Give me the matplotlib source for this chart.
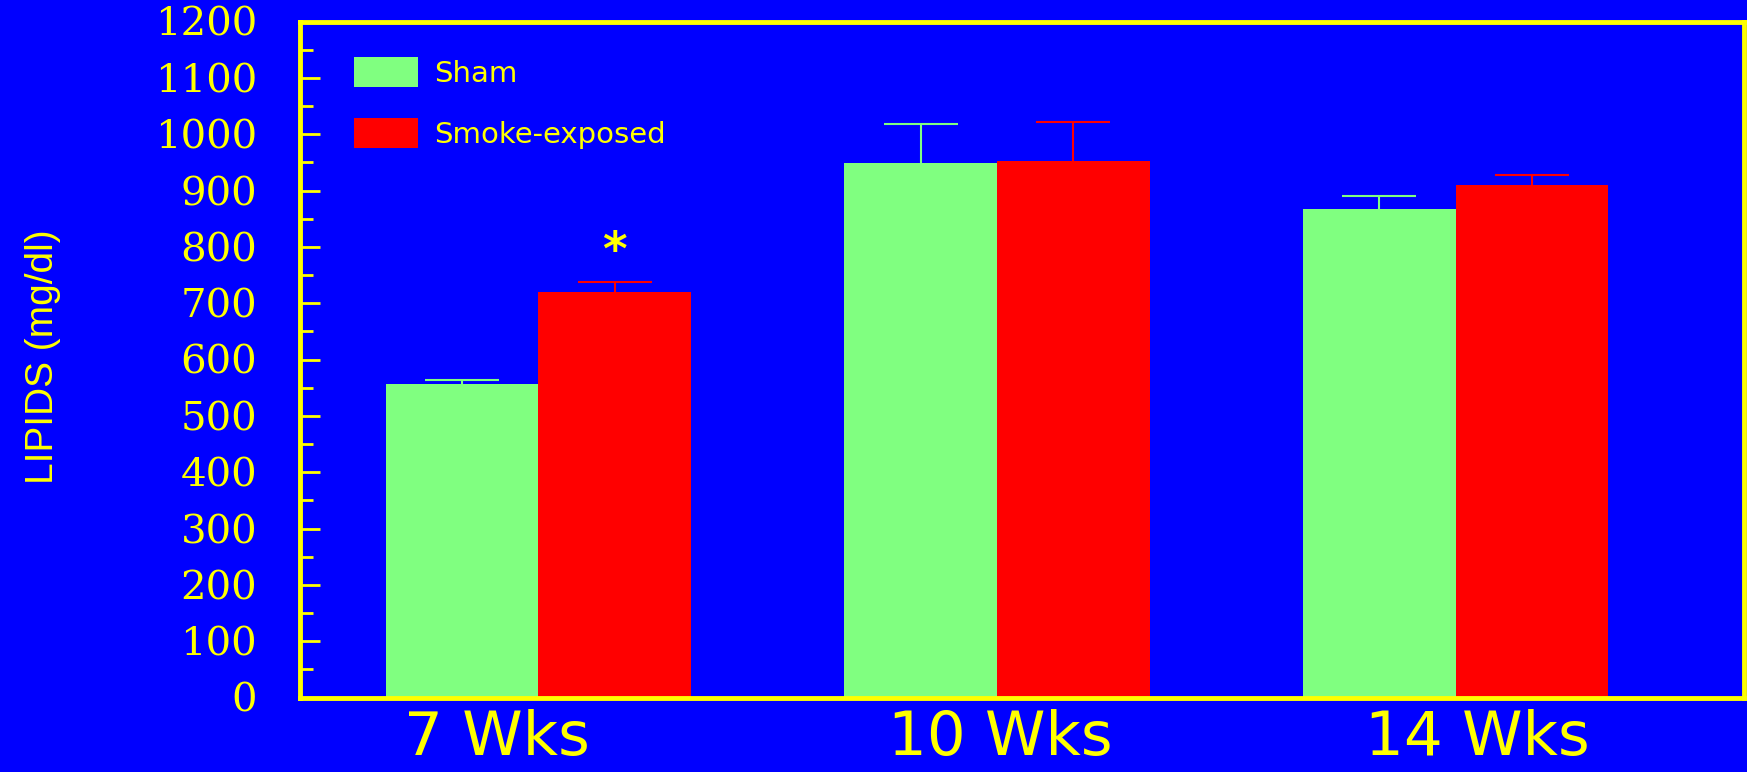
import matplotlib
matplotlib.use("Agg")
import matplotlib.pyplot as plt
import numpy as np
from matplotlib.ticker import MultipleLocator

# Serum lipids by exposure duration
categories = ["7 Wks", "10 Wks", "14 Wks"]
series_names = ["Sham", "Smoke-exposed"]
sham = [556, 949, 867]
sham_err = [8, 69, 23]
smoke = [720, 952, 909]
smoke_err = [18, 70, 19]
significant = [True, False, False]
label_shift = [-0.09, 0.007, 0.047]

BLUE = "#0000FF"
YELLOW = "#FFFF00"
GREEN = "#80FF80"
RED = "#FF0000"

W, H, DPI = 1747, 772, 100
fig = plt.figure(figsize=(W / DPI, H / DPI), dpi=DPI, facecolor=BLUE)
ax = fig.add_axes([299.5 / W, 74.5 / H, 1445 / W, 676 / H])
ax.set_facecolor(BLUE)

x = np.arange(len(categories))
w = 1 / 3
ax.bar(x - w / 2, sham, w, color=GREEN, label=series_names[0], zorder=2)
ax.bar(x + w / 2, smoke, w, color=RED, label=series_names[1], zorder=2)

# upper-only error bars: hide the cap that would sit on the bar top
for xs, vals, errs, col in ((x - w / 2, sham, sham_err, GREEN),
                            (x + w / 2, smoke, smoke_err, RED)):
    eb = ax.errorbar(xs, vals, yerr=[np.zeros(len(errs)), errs], fmt="none",
                     ecolor=col, elinewidth=1.5, capsize=26.5, capthick=1.5,
                     zorder=1)
    eb[1][0].set_visible(False)

for i, sig in enumerate(significant):
    if sig:
        ax.annotate("*", xy=(x[i] + w / 2, smoke[i] + smoke_err[i]),
                    xytext=(0, 12), textcoords="offset points",
                    ha="center", va="baseline", fontsize=34,
                    fontweight="bold", color=YELLOW)

ax.set_xlim(-0.521, 2.630)
ax.set_ylim(0, 1200)

for sp in ax.spines.values():
    sp.set_color(YELLOW)
    sp.set_linewidth(3.5)

ax.yaxis.set_major_locator(MultipleLocator(100))
ax.yaxis.set_minor_locator(MultipleLocator(50))
ax.tick_params(axis="y", which="major", direction="in", length=14.4, width=2.0,
               color=YELLOW, pad=30.5, labelcolor=YELLOW, labelsize=29)
ax.tick_params(axis="y", which="minor", direction="in", length=9.4, width=2.0,
               color=YELLOW)
for t in ax.get_yticklabels():
    t.set_fontfamily("DejaVu Serif")

ax.set_xticks(x + np.array(label_shift))
ax.set_xticklabels(categories, fontsize=44, color=YELLOW,
                   fontfamily="DejaVu Sans")
ax.tick_params(axis="x", length=0, pad=8)

ax.set_ylabel("LIPIDS (mg/dl)", color=YELLOW, fontsize=28,
              family="Liberation Sans")
ax.yaxis.set_label_coords(-0.165, 0.504)

leg = ax.legend(loc="upper left", bbox_to_anchor=(0.0377, 0.9475),
                frameon=False, fontsize=21, handlelength=2.2, handleheight=1.2,
                labelspacing=1.05, handletextpad=0.55, borderpad=0,
                borderaxespad=0)
for t in leg.get_texts():
    t.set_color(YELLOW)

fig.savefig("out.png", dpi=DPI, facecolor=BLUE)
